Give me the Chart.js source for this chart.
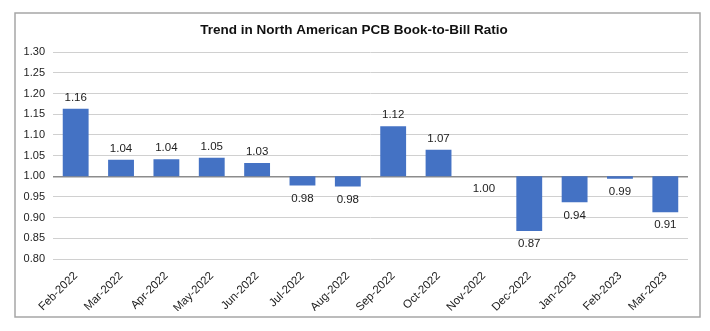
<!DOCTYPE html>
<html>
<head>
<meta charset="utf-8">
<script src="https://cdn.jsdelivr.net/npm/chart.js@4/dist/chart.umd.min.js"></script>
<style>
html,body{margin:0;padding:0;background:#fff;}
#wrap{width:710px;height:331px;position:relative;}
</style>
</head>
<body>
<div id="wrap"><canvas id="c" width="710" height="331"></canvas></div>
<script>
const categories = ["Feb-2022","Mar-2022","Apr-2022","May-2022","Jun-2022","Jul-2022","Aug-2022","Sep-2022","Oct-2022","Nov-2022","Dec-2022","Jan-2023","Feb-2023","Mar-2023"];
const ratios = [1.163,1.040,1.041,1.045,1.032,0.978,0.975,1.121,1.064,1.000,0.868,0.937,0.994,0.913];
const labels = ["1.16","1.04","1.04","1.05","1.03","0.98","0.98","1.12","1.07","1.00","0.87","0.94","0.99","0.91"];
const baseline = 1.00;
const yTicks = {min:0.80, max:1.30, step:0.05};
const title = "Trend in North American PCB Book-to-Bill Ratio";

const FONT = "'Liberation Sans', Arial, sans-serif";

const labelPlugin = {
  id:'valLabels',
  afterDatasetsDraw(chart){
    const ctx = chart.ctx;
    const meta = chart.getDatasetMeta(0);
    const ys = chart.scales.y;
    ctx.save();
    ctx.font = "11.5px " + FONT;
    ctx.fillStyle = "#222";
    ctx.textAlign = "center";
    ctx.textBaseline = "middle";
    meta.data.forEach((bar,i)=>{
      const v = ratios[i];
      let y;
      if (v > baseline) y = ys.getPixelForValue(v) - 11;
      else y = ys.getPixelForValue(v) + 13;
      ctx.fillText(labels[i], bar.x, y);
    });
    ctx.restore();
  }
};
const borderPlugin = {
  id:'outerBorder',
  afterDraw(chart){
    const ctx = chart.ctx;
    ctx.save();
    ctx.strokeStyle = "#a6a6a6";
    ctx.lineWidth = 1.5;
    ctx.strokeRect(15, 13, 685, 304);
    ctx.restore();
  }
};

new Chart(document.getElementById('c'), {
  type:'bar',
  data:{
    labels: categories,
    datasets:[{
      data: ratios.map(v=>[baseline, v]),
      backgroundColor:'#4472C4',
      borderColor:'#4472C4',
      borderWidth:0,
      categoryPercentage:1.0,
      barPercentage:0.57,
      borderSkipped:false
    }]
  },
  options:{
    responsive:false,
    animation:false,
    layout:{padding:{left:20, right:22, top:0, bottom:20}},
    plugins:{
      legend:{display:false},
      tooltip:{enabled:false},
      title:{display:true, text:title, color:'#111',
        font:{family:FONT, size:13.5, weight:'bold'},
        padding:{top:22, bottom:14}}
    },
    scales:{
      x:{
        grid:{display:false},
        border:{display:false},
        ticks:{color:'#222', font:{family:FONT, size:11.5}, minRotation:45, maxRotation:45, padding:2},
        afterFit(s){ s.height = 52; }
      },
      y:{
        min:yTicks.min, max:yTicks.max,
        border:{display:false},
        grid:{
          color:(c)=> Math.abs(c.tick.value - baseline) < 1e-6 ? '#8c8c8c' : '#d0d0d0',
          lineWidth:(c)=> Math.abs(c.tick.value - baseline) < 1e-6 ? 1.5 : 1,
          drawTicks:false
        },
        ticks:{stepSize:yTicks.step, color:'#222', font:{family:FONT, size:11}, padding:8,
          callback:(v)=> Number(v).toFixed(2)},
        afterFit(s){ s.width = 33; }
      }
    }
  },
  plugins:[labelPlugin, borderPlugin]
});
</script>
</body>
</html>
